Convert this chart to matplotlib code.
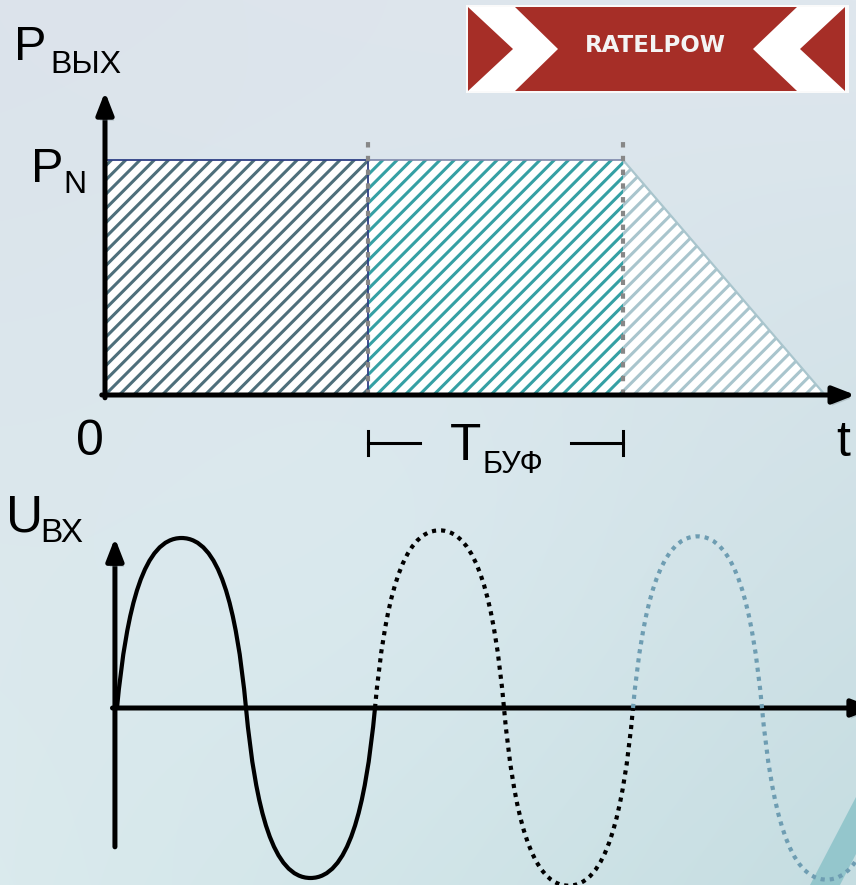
import numpy as np
import matplotlib
matplotlib.use("Agg")
import matplotlib.pyplot as plt
import matplotlib.patheffects as pe
from matplotlib.backend_bases import GraphicsContextBase
from matplotlib.patches import Polygon, Rectangle, PathPatch
from matplotlib.path import Path

# ---------------- data ----------------
# output power of the UPS (relative to nominal P_N) versus time, ms
t_out = [0.0, 20.3, 40.0, 55.6]
p_out = [1.0, 1.0, 1.0, 0.0]

# input mains voltage: 50 Hz, one segment per cycle
mains_period_ms = 20.0
cycle_start_ms = [0.0, 20.0, 40.0]
cycle_amplitude_v = [311.0, 325.0, 314.0]

# ---------------- style ----------------
W, H = 856, 885
plt.rcParams["hatch.linewidth"] = 2.2
# slightly finer hatch spacing than the default density
GraphicsContextBase.get_hatch_path.__defaults__ = (7.5,)
FONT = "Liberation Sans"

HATCH_COLORS = ["#4e6f7b", "#35a0a4", "#a9c5cd"]
EDGE_NAVY = "#2f3f86"
WAVE_STYLES = [
    dict(edgecolor="black", linestyle="-", lw=3.0, capstyle="round"),
    dict(edgecolor="black", linestyle=(0, (1.0, 1.2)), lw=3.0, capstyle="butt"),
    dict(edgecolor="#6e9db2", linestyle=(0, (1.0, 1.2)), lw=3.0, capstyle="butt"),
]
# shape of each quarter-wave Bezier (fractions of quarter period / amplitude)
Q_ALPHA, Q_BETA, Q_GAMMA = 0.15, 0.60, 0.42

fig = plt.figure(figsize=(W / 100, H / 100), dpi=100)

# ---------------- background (pixel coordinates) ----------------
bg = fig.add_axes([0, 0, 1, 1])
bg.set_xlim(0, W)
bg.set_ylim(H, 0)
bg.axis("off")

yy, xx = np.mgrid[0:H, 0:W]
u = (xx / W)[..., None]
v = (yy / H)[..., None]
c_tl = np.array([220, 227, 235]) / 255
c_tr = np.array([223, 231, 238]) / 255
c_bl = np.array([218, 234, 237]) / 255
c_br = np.array([197, 221, 225]) / 255
img = (c_tl * (1 - u) * (1 - v) + c_tr * u * (1 - v)
       + c_bl * (1 - u) * v + c_br * u * v)
mid = np.exp(-((u - 0.45) ** 2 + (v - 0.6) ** 2) / 0.12)
img = np.clip(img + 0.015 * mid, 0, 1)
bg.imshow(img, extent=(0, W, H, 0), aspect="auto", zorder=0, interpolation="bilinear")

# decorative stroke in the lower right corner
bg.add_patch(Polygon([(810, 885), (840, 885), (856, 854), (856, 797)],
                     closed=True, facecolor="#8cc3c9", edgecolor="none",
                     alpha=0.85, zorder=1))

# logo banner
bg.add_patch(Rectangle((466, 5), 383, 88, facecolor="#fafafa", edgecolor="none", zorder=2))
bg.add_patch(Rectangle((468, 7), 377, 84, facecolor="#a62e27", edgecolor="none", zorder=3))
bg.add_patch(Polygon([(468, 7), (515, 7), (558, 49), (515, 91), (468, 91), (513, 49)],
                     closed=True, facecolor="white", edgecolor="none", zorder=4))
bg.add_patch(Polygon([(797, 7), (845, 7), (800, 49), (845, 91), (797, 91), (753, 49)],
                     closed=True, facecolor="white", edgecolor="none", zorder=4))
bg.text(655, 46, "RATELPOW", color="#f4f4f4", fontsize=16.5, fontweight="bold",
        family="DejaVu Sans", ha="center", va="center", zorder=5)

# axis labels
def label(x, y, s, size):
    bg.text(x, y, s, fontsize=size, family=FONT, color="black",
            ha="left", va="baseline", zorder=6)

label(14, 60, "P", 35)
label(50, 73, "ВЫХ", 23)
label(31, 182, "P", 35)
label(63, 193, "N", 23)
label(76, 455, "0", 36)
label(836, 456, "t", 36)
label(450, 460, "T", 37)
label(483, 473, "БУФ", 22)
label(6, 532, "U", 37)
label(40, 542, "ВХ", 24)

# ---------------- output power diagram ----------------
# calibration: t=0 ms at x=105 px, 12.95 px per ms; P=0 at y=395 px, P_N 235 px higher
ax1 = fig.add_axes([0, 0, 1, 1])
ax1.patch.set_alpha(0)
ax1.axis("off")
ax1.set_xlim((0 - 105) / 12.95, (W - 105) / 12.95)
ax1.set_ylim((395 - H) / 235, (395 - 0) / 235)

for k in range(3):
    ax1.fill_between(t_out[k:k + 2], 0, p_out[k:k + 2], facecolor="white",
                     edgecolor=HATCH_COLORS[k], hatch="//", linewidth=0, zorder=2)

ax1.plot(t_out[0:2], p_out[0:2], color=EDGE_NAVY, lw=1.3, zorder=3)
ax1.plot(t_out[1:3], p_out[1:3], color="#7d87aa", lw=1.2, zorder=3)
ax1.plot(t_out[2:4], p_out[2:4], color="#a9c5cd", lw=1.6, zorder=3)
ax1.plot([t_out[1]] * 2, [0, p_out[1]], color=EDGE_NAVY, lw=1.3, zorder=3)

for tb in (t_out[1], t_out[2]):
    ax1.plot([tb, tb], [0, 1.106], color="#878787", lw=3.0,
             ls=(0, (1.3, 2.0)), dash_capstyle="butt", zorder=4)

# buffer time span marks
y_br, half = -0.204, 0.05
for t_edge, t_inner in ((t_out[1], t_out[1] + 4.0), (t_out[2], t_out[2] - 4.0)):
    ax1.plot([t_edge, t_edge], [y_br - half, y_br + half], color="black", lw=2.2)
    ax1.plot([t_edge, t_inner], [y_br, y_br], color="black", lw=2.2)

arrow_kw = dict(arrowstyle="-|>,head_length=0.95,head_width=0.37",
                mutation_scale=14, lw=3.6, color="black",
                shrinkA=0, shrinkB=0)
shadow = [pe.SimplePatchShadow(offset=(1.5, -2.5), shadow_rgbFace="#7a8a90", alpha=0.35),
          pe.Normal()]


def axis_arrow(ax, start, tip, z):
    a = ax.annotate("", xy=tip, xytext=start, arrowprops=arrow_kw,
                    annotation_clip=False, zorder=z)
    a.arrow_patch.set_path_effects(shadow)


axis_arrow(ax1, (-0.25, 0), ((W - 105) / 12.95 - 0.05, 0), 5)
axis_arrow(ax1, (0, -0.012), (0, 1.29), 5)

# ---------------- input voltage diagram ----------------
# calibration: t=0 ms at x=117 px, 12.9 px per ms; U=0 at y=708 px, 0.5466 px per volt
ax2 = fig.add_axes([0, 0, 1, 1])
ax2.patch.set_alpha(0)
ax2.axis("off")
ax2.set_xlim((0 - 117) / 12.9, (W - 117) / 12.9)
ax2.set_ylim((708 - H) / 0.5466, (708 - 0) / 0.5466)

axis_arrow(ax2, (-0.35, 0), (58.7, 0), 3)
axis_arrow(ax2, (-0.16, -254), (-0.16, 311), 3)


def cycle_path(t0, period, amp):
    """One full mains cycle built from four cubic Bezier quarter waves."""
    q = period / 4.0
    verts = [(t0, 0.0)]
    for k, sign in enumerate((1, 1, -1, -1)):
        a = q * k + t0
        if k % 2 == 0:      # from zero crossing to extremum
            verts += [(a + Q_ALPHA * q, sign * Q_BETA * amp),
                      (a + Q_GAMMA * q, sign * amp),
                      (a + q, sign * amp)]
        else:               # from extremum back to zero crossing
            verts += [(a + q - Q_GAMMA * q, sign * amp),
                      (a + q - Q_ALPHA * q, sign * Q_BETA * amp),
                      (a + q, 0.0)]
    codes = [Path.MOVETO] + [Path.CURVE4] * 12
    return Path(verts, codes)


for k in range(3):
    ax2.add_patch(PathPatch(cycle_path(cycle_start_ms[k], mains_period_ms,
                                       cycle_amplitude_v[k]),
                            facecolor="none", zorder=4, **WAVE_STYLES[k]))

fig.savefig("out.png", dpi=100)
